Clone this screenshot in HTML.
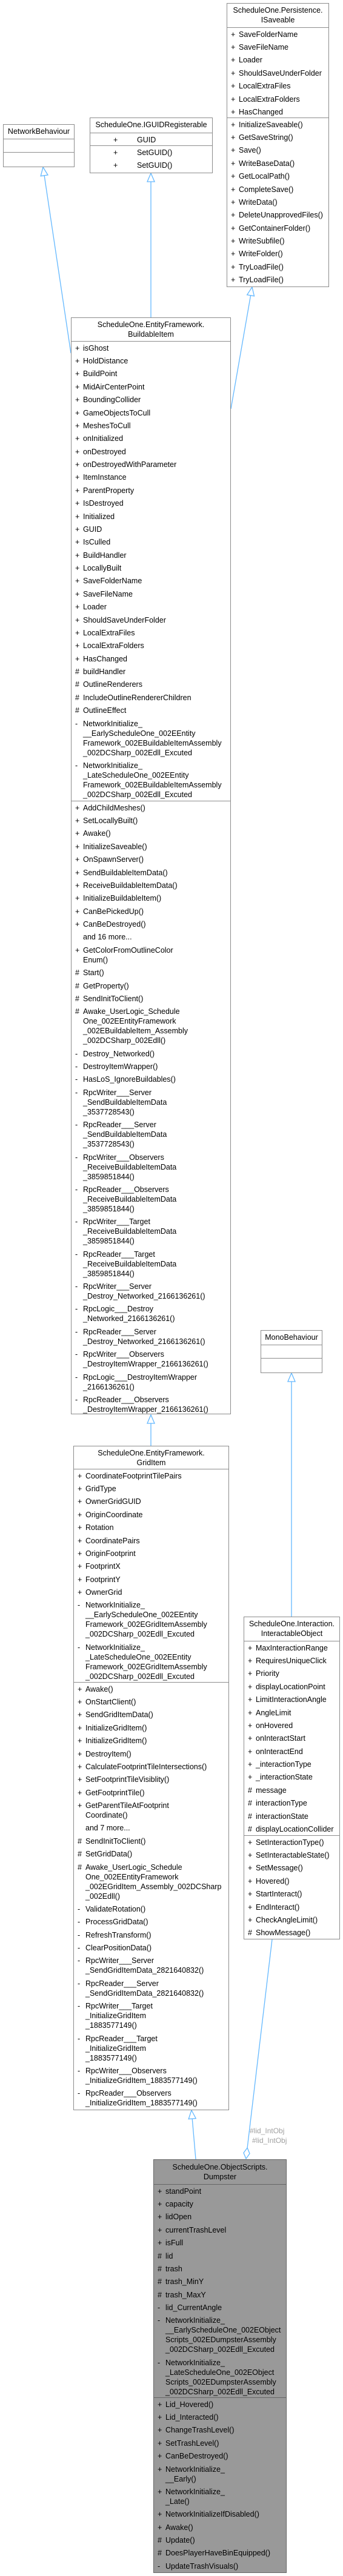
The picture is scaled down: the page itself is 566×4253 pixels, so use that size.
<!DOCTYPE html>
<html><head><meta charset="utf-8"><style>
html,body{margin:0;padding:0;background:#fff;}
body{width:566px;height:4253px;position:relative;overflow:hidden;font-family:"Liberation Sans",sans-serif;font-size:12.5px;color:#000;}
.box{position:absolute;border:1px solid #8c8c8c;background:#fff;box-sizing:border-box;overflow:hidden;}
.t{text-align:center;line-height:16px;padding-top:3px;border-bottom:1px solid #8c8c8c;box-sizing:border-box;white-space:nowrap;}
.s{box-sizing:border-box;border-bottom:1px solid #8c8c8c;overflow:hidden;}
.s:last-child{border-bottom:none;}
.r{position:relative;line-height:16px;padding:2.7px 0 2.7px 19px;white-space:nowrap;}
.r b{position:absolute;left:6px;top:2.7px;font-weight:normal;}
.g .r{padding-left:77px;}
.g .r b{left:38px;}
.dump{background:#999;border-color:#666;}
.dump .t,.dump .s{border-color:#666;}
svg{position:absolute;left:0;top:0;}
</style></head><body>

<svg width="566" height="4253" viewBox="0 0 566 4253">
<g stroke="#63b8ff" stroke-width="1.3" fill="#fff">
<line x1="117" y1="583" x2="73.1" y2="289.8"/>
<polygon points="71,276 79,288.9 67.2,290.7"/>
<line x1="249" y1="300" x2="249" y2="524"/>
<polygon points="249,286 243,300 255,300"/>
<line x1="381" y1="675" x2="413.6" y2="487.8"/>
<polygon points="416,474 419.5,488.8 407.7,486.8"/>
<line x1="249" y1="2350" x2="249" y2="2387"/>
<polygon points="249,2336 243,2350 255,2350"/>
<line x1="481" y1="2281" x2="481" y2="2669"/>
<polygon points="481,2267 475,2281 487,2281"/>
<line x1="317.2" y1="3498" x2="323" y2="3565"/>
<polygon points="316,3484 323.2,3497.5 311.2,3498.5"/>
<line x1="449" y1="3202" x2="408.1" y2="3546.1"/>
<polygon points="406,3564 412,3555.6 408.1,3546.1 402,3554.4"/>
</g>
<text x="412" y="3522" fill="#a0a0a0" font-family="Liberation Sans" font-size="12">#lid_IntObj</text>
<text x="416" y="3538" fill="#a0a0a0" font-family="Liberation Sans" font-size="12">#lid_IntObj</text>
</svg>

<!-- NetworkBehaviour -->
<div class="box" style="left:5px;top:205px;width:118px;height:71px;">
<div class="t" style="height:24px;">NetworkBehaviour</div>
<div class="s" style="height:22px;"></div>
<div class="s" style="height:23px;"></div>
</div>

<!-- IGUIDRegisterable -->
<div class="box g" style="left:148px;top:194px;width:203px;height:92px;">
<div class="t" style="height:25px;">ScheduleOne.IGUIDRegisterable</div>
<div class="s" style="height:21px;"><div class="r"><b>+</b>GUID</div></div>
<div class="s" style="height:44px;"><div class="r"><b>+</b>SetGUID()</div><div class="r"><b>+</b>SetGUID()</div></div>
</div>

<!-- ISaveable -->
<div class="box" style="left:374px;top:5px;width:169px;height:469px;">
<div class="t" style="height:40px;">ScheduleOne.Persistence.<br>ISaveable</div>
<div class="s" style="height:149px;">
<div class="r"><b>+</b>SaveFolderName</div>
<div class="r"><b>+</b>SaveFileName</div>
<div class="r"><b>+</b>Loader</div>
<div class="r"><b>+</b>ShouldSaveUnderFolder</div>
<div class="r"><b>+</b>LocalExtraFiles</div>
<div class="r"><b>+</b>LocalExtraFolders</div>
<div class="r"><b>+</b>HasChanged</div>
</div>
<div class="s" style="height:278px;">
<div class="r"><b>+</b>InitializeSaveable()</div>
<div class="r"><b>+</b>GetSaveString()</div>
<div class="r"><b>+</b>Save()</div>
<div class="r"><b>+</b>WriteBaseData()</div>
<div class="r"><b>+</b>GetLocalPath()</div>
<div class="r"><b>+</b>CompleteSave()</div>
<div class="r"><b>+</b>WriteData()</div>
<div class="r"><b>+</b>DeleteUnapprovedFiles()</div>
<div class="r"><b>+</b>GetContainerFolder()</div>
<div class="r"><b>+</b>WriteSubfile()</div>
<div class="r"><b>+</b>WriteFolder()</div>
<div class="r"><b>+</b>TryLoadFile()</div>
<div class="r"><b>+</b>TryLoadFile()</div>
</div>
</div>

<!-- BuildableItem -->
<div class="box" style="left:117px;top:524px;width:264px;height:1811px;">
<div class="t" style="height:39px;">ScheduleOne.EntityFramework.<br>BuildableItem</div>
<div class="s" style="height:759px;">
<div class="r"><b>+</b>isGhost</div>
<div class="r"><b>+</b>HoldDistance</div>
<div class="r"><b>+</b>BuildPoint</div>
<div class="r"><b>+</b>MidAirCenterPoint</div>
<div class="r"><b>+</b>BoundingCollider</div>
<div class="r"><b>+</b>GameObjectsToCull</div>
<div class="r"><b>+</b>MeshesToCull</div>
<div class="r"><b>+</b>onInitialized</div>
<div class="r"><b>+</b>onDestroyed</div>
<div class="r"><b>+</b>onDestroyedWithParameter</div>
<div class="r"><b>+</b>ItemInstance</div>
<div class="r"><b>+</b>ParentProperty</div>
<div class="r"><b>+</b>IsDestroyed</div>
<div class="r"><b>+</b>Initialized</div>
<div class="r"><b>+</b>GUID</div>
<div class="r"><b>+</b>IsCulled</div>
<div class="r"><b>+</b>BuildHandler</div>
<div class="r"><b>+</b>LocallyBuilt</div>
<div class="r"><b>+</b>SaveFolderName</div>
<div class="r"><b>+</b>SaveFileName</div>
<div class="r"><b>+</b>Loader</div>
<div class="r"><b>+</b>ShouldSaveUnderFolder</div>
<div class="r"><b>+</b>LocalExtraFiles</div>
<div class="r"><b>+</b>LocalExtraFolders</div>
<div class="r"><b>+</b>HasChanged</div>
<div class="r"><b>#</b>buildHandler</div>
<div class="r"><b>#</b>OutlineRenderers</div>
<div class="r"><b>#</b>IncludeOutlineRendererChildren</div>
<div class="r"><b>#</b>OutlineEffect</div>
<div class="r"><b>-</b>NetworkInitialize_<br>__EarlyScheduleOne_002EEntity<br>Framework_002EBuildableItemAssembly<br>_002DCSharp_002Edll_Excuted</div>
<div class="r"><b>-</b>NetworkInitialize_<br>_LateScheduleOne_002EEntity<br>Framework_002EBuildableItemAssembly<br>_002DCSharp_002Edll_Excuted</div>
</div>
<div class="s" style="height:1011px;">
<div class="r"><b>+</b>AddChildMeshes()</div>
<div class="r"><b>+</b>SetLocallyBuilt()</div>
<div class="r"><b>+</b>Awake()</div>
<div class="r"><b>+</b>InitializeSaveable()</div>
<div class="r"><b>+</b>OnSpawnServer()</div>
<div class="r"><b>+</b>SendBuildableItemData()</div>
<div class="r"><b>+</b>ReceiveBuildableItemData()</div>
<div class="r"><b>+</b>InitializeBuildableItem()</div>
<div class="r"><b>+</b>CanBePickedUp()</div>
<div class="r"><b>+</b>CanBeDestroyed()</div>
<div class="r">and 16 more...</div>
<div class="r"><b>+</b>GetColorFromOutlineColor<br>Enum()</div>
<div class="r"><b>#</b>Start()</div>
<div class="r"><b>#</b>GetProperty()</div>
<div class="r"><b>#</b>SendInitToClient()</div>
<div class="r"><b>#</b>Awake_UserLogic_Schedule<br>One_002EEntityFramework<br>_002EBuildableItem_Assembly<br>_002DCSharp_002Edll()</div>
<div class="r"><b>-</b>Destroy_Networked()</div>
<div class="r"><b>-</b>DestroyItemWrapper()</div>
<div class="r"><b>-</b>HasLoS_IgnoreBuildables()</div>
<div class="r"><b>-</b>RpcWriter___Server<br>_SendBuildableItemData<br>_3537728543()</div>
<div class="r"><b>-</b>RpcReader___Server<br>_SendBuildableItemData<br>_3537728543()</div>
<div class="r"><b>-</b>RpcWriter___Observers<br>_ReceiveBuildableItemData<br>_3859851844()</div>
<div class="r"><b>-</b>RpcReader___Observers<br>_ReceiveBuildableItemData<br>_3859851844()</div>
<div class="r"><b>-</b>RpcWriter___Target<br>_ReceiveBuildableItemData<br>_3859851844()</div>
<div class="r"><b>-</b>RpcReader___Target<br>_ReceiveBuildableItemData<br>_3859851844()</div>
<div class="r"><b>-</b>RpcWriter___Server<br>_Destroy_Networked_2166136261()</div>
<div class="r"><b>-</b>RpcLogic___Destroy<br>_Networked_2166136261()</div>
<div class="r"><b>-</b>RpcReader___Server<br>_Destroy_Networked_2166136261()</div>
<div class="r"><b>-</b>RpcWriter___Observers<br>_DestroyItemWrapper_2166136261()</div>
<div class="r"><b>-</b>RpcLogic___DestroyItemWrapper<br>_2166136261()</div>
<div class="r"><b>-</b>RpcReader___Observers<br>_DestroyItemWrapper_2166136261()</div>
</div>
</div>

<!-- GridItem -->
<div class="box" style="left:121px;top:2387px;width:257px;height:1097px;">
<div class="t" style="height:38px;">ScheduleOne.EntityFramework.<br>GridItem</div>
<div class="s" style="height:352px;">
<div class="r"><b>+</b>CoordinateFootprintTilePairs</div>
<div class="r"><b>+</b>GridType</div>
<div class="r"><b>+</b>OwnerGridGUID</div>
<div class="r"><b>+</b>OriginCoordinate</div>
<div class="r"><b>+</b>Rotation</div>
<div class="r"><b>+</b>CoordinatePairs</div>
<div class="r"><b>+</b>OriginFootprint</div>
<div class="r"><b>+</b>FootprintX</div>
<div class="r"><b>+</b>FootprintY</div>
<div class="r"><b>+</b>OwnerGrid</div>
<div class="r"><b>-</b>NetworkInitialize_<br>__EarlyScheduleOne_002EEntity<br>Framework_002EGridItemAssembly<br>_002DCSharp_002Edll_Excuted</div>
<div class="r"><b>-</b>NetworkInitialize_<br>_LateScheduleOne_002EEntity<br>Framework_002EGridItemAssembly<br>_002DCSharp_002Edll_Excuted</div>
</div>
<div class="s" style="height:705px;">
<div class="r"><b>+</b>Awake()</div>
<div class="r"><b>+</b>OnStartClient()</div>
<div class="r"><b>+</b>SendGridItemData()</div>
<div class="r"><b>+</b>InitializeGridItem()</div>
<div class="r"><b>+</b>InitializeGridItem()</div>
<div class="r"><b>+</b>DestroyItem()</div>
<div class="r"><b>+</b>CalculateFootprintTileIntersections()</div>
<div class="r"><b>+</b>SetFootprintTileVisiblity()</div>
<div class="r"><b>+</b>GetFootprintTile()</div>
<div class="r"><b>+</b>GetParentTileAtFootprint<br>Coordinate()</div>
<div class="r">and 7 more...</div>
<div class="r"><b>#</b>SendInitToClient()</div>
<div class="r"><b>#</b>SetGridData()</div>
<div class="r"><b>#</b>Awake_UserLogic_Schedule<br>One_002EEntityFramework<br>_002EGridItem_Assembly_002DCSharp<br>_002Edll()</div>
<div class="r"><b>-</b>ValidateRotation()</div>
<div class="r"><b>-</b>ProcessGridData()</div>
<div class="r"><b>-</b>RefreshTransform()</div>
<div class="r"><b>-</b>ClearPositionData()</div>
<div class="r"><b>-</b>RpcWriter___Server<br>_SendGridItemData_2821640832()</div>
<div class="r"><b>-</b>RpcReader___Server<br>_SendGridItemData_2821640832()</div>
<div class="r"><b>-</b>RpcWriter___Target<br>_InitializeGridItem<br>_1883577149()</div>
<div class="r"><b>-</b>RpcReader___Target<br>_InitializeGridItem<br>_1883577149()</div>
<div class="r"><b>-</b>RpcWriter___Observers<br>_InitializeGridItem_1883577149()</div>
<div class="r"><b>-</b>RpcReader___Observers<br>_InitializeGridItem_1883577149()</div>
</div>
</div>

<!-- MonoBehaviour -->
<div class="box" style="left:430px;top:2196px;width:102px;height:71px;">
<div class="t" style="height:24px;">MonoBehaviour</div>
<div class="s" style="height:22px;"></div>
<div class="s" style="height:23px;"></div>
</div>

<!-- InteractableObject -->
<div class="box" style="left:402px;top:2669px;width:159px;height:533px;">
<div class="t" style="height:40px;">ScheduleOne.Interaction.<br>InteractableObject</div>
<div class="s" style="height:321px;">
<div class="r"><b>+</b>MaxInteractionRange</div>
<div class="r"><b>+</b>RequiresUniqueClick</div>
<div class="r"><b>+</b>Priority</div>
<div class="r"><b>+</b>displayLocationPoint</div>
<div class="r"><b>+</b>LimitInteractionAngle</div>
<div class="r"><b>+</b>AngleLimit</div>
<div class="r"><b>+</b>onHovered</div>
<div class="r"><b>+</b>onInteractStart</div>
<div class="r"><b>+</b>onInteractEnd</div>
<div class="r"><b>+</b>_interactionType</div>
<div class="r"><b>+</b>_interactionState</div>
<div class="r"><b>#</b>message</div>
<div class="r"><b>#</b>interactionType</div>
<div class="r"><b>#</b>interactionState</div>
<div class="r"><b>#</b>displayLocationCollider</div>
</div>
<div class="s" style="height:170px;">
<div class="r"><b>+</b>SetInteractionType()</div>
<div class="r"><b>+</b>SetInteractableState()</div>
<div class="r"><b>+</b>SetMessage()</div>
<div class="r"><b>+</b>Hovered()</div>
<div class="r"><b>+</b>StartInteract()</div>
<div class="r"><b>+</b>EndInteract()</div>
<div class="r"><b>+</b>CheckAngleLimit()</div>
<div class="r"><b>#</b>ShowMessage()</div>
</div>
</div>

<!-- Dumpster -->
<div class="box dump" style="left:253px;top:3565px;width:220px;height:683px;">
<div class="t" style="height:41px;padding-top:4px;">ScheduleOne.ObjectScripts.<br>Dumpster</div>
<div class="s" style="height:352px;">
<div class="r"><b>+</b>standPoint</div>
<div class="r"><b>+</b>capacity</div>
<div class="r"><b>+</b>lidOpen</div>
<div class="r"><b>+</b>currentTrashLevel</div>
<div class="r"><b>+</b>isFull</div>
<div class="r"><b>#</b>lid</div>
<div class="r"><b>#</b>trash</div>
<div class="r"><b>#</b>trash_MinY</div>
<div class="r"><b>#</b>trash_MaxY</div>
<div class="r"><b>-</b>lid_CurrentAngle</div>
<div class="r"><b>-</b>NetworkInitialize_<br>__EarlyScheduleOne_002EObject<br>Scripts_002EDumpsterAssembly<br>_002DCSharp_002Edll_Excuted</div>
<div class="r"><b>-</b>NetworkInitialize_<br>_LateScheduleOne_002EObject<br>Scripts_002EDumpsterAssembly<br>_002DCSharp_002Edll_Excuted</div>
</div>
<div class="s" style="height:288px;">
<div class="r"><b>+</b>Lid_Hovered()</div>
<div class="r"><b>+</b>Lid_Interacted()</div>
<div class="r"><b>+</b>ChangeTrashLevel()</div>
<div class="r"><b>+</b>SetTrashLevel()</div>
<div class="r"><b>+</b>CanBeDestroyed()</div>
<div class="r"><b>+</b>NetworkInitialize_<br>__Early()</div>
<div class="r"><b>+</b>NetworkInitialize_<br>_Late()</div>
<div class="r"><b>+</b>NetworkInitializeIfDisabled()</div>
<div class="r"><b>+</b>Awake()</div>
<div class="r"><b>#</b>Update()</div>
<div class="r"><b>#</b>DoesPlayerHaveBinEquipped()</div>
<div class="r"><b>-</b>UpdateTrashVisuals()</div>
</div>
</div>

</body></html>
